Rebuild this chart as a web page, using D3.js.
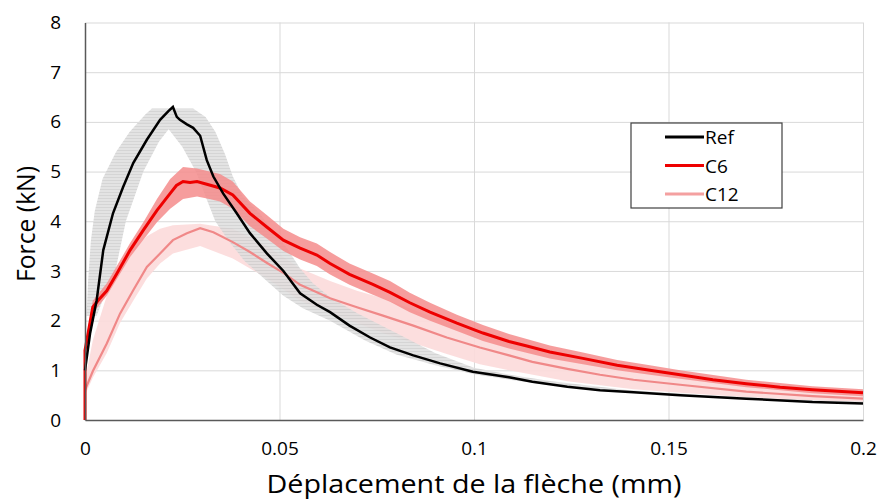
<!DOCTYPE html>
<html>
<head>
<meta charset="utf-8">
<script src="https://cdn.jsdelivr.net/npm/d3@7"></script>
<style>
  body { margin: 0; background: #fff; }
  svg { font-family: "Open Sans", "Noto Sans", sans-serif; }
</style>
</head>
<body>
<svg id="chart"></svg>
<script>
// tick values / labels
var xTicks = [0, 0.05, 0.1, 0.15, 0.2];
var xTickLabels = ["0", "0.05", "0.1", "0.15", "0.2"];
var yTicks = [0, 1, 2, 3, 4, 5, 6, 7, 8];

// Ref (mean curve)
var refX = [0, 0.0013, 0.003, 0.0047, 0.0072, 0.0098, 0.0124, 0.0159, 0.0193, 0.0215, 0.0226, 0.0236, 0.0244, 0.0262, 0.0278, 0.0296, 0.0313, 0.033, 0.0355, 0.039, 0.0424, 0.0468, 0.051, 0.0553, 0.0596, 0.063, 0.068, 0.0733, 0.0784, 0.0844, 0.0913, 0.0997, 0.109, 0.115, 0.124, 0.1324, 0.141, 0.153, 0.17, 0.187, 0.2];
var refF = [1.0, 1.74, 2.41, 3.42, 4.16, 4.69, 5.17, 5.64, 6.04, 6.22, 6.3, 6.1, 6.04, 5.95, 5.88, 5.72, 5.23, 4.9, 4.56, 4.16, 3.76, 3.35, 3.0, 2.55, 2.32, 2.17, 1.9, 1.66, 1.46, 1.3, 1.14, 0.97, 0.86, 0.77, 0.67, 0.6, 0.56, 0.5, 0.43, 0.36, 0.33];
// Ref scatter band: outer edge (left/upper) and inner edge (right/lower), as [x, F]
var refBandOuter = [[0.0004, 2.1], [0.0008, 2.8], [0.0015, 3.6], [0.0025, 4.2], [0.0045, 4.85], [0.008, 5.4], [0.0115, 5.8], [0.0155, 6.15], [0.0172, 6.27], [0.0278, 6.27], [0.031, 6.1], [0.0335, 5.8], [0.036, 5.35], [0.038, 4.9], [0.0406, 4.5], [0.045, 4.15], [0.0483, 3.8], [0.052, 3.45], [0.0553, 3.05], [0.0586, 2.75], [0.063, 2.47], [0.07, 2.15], [0.08, 1.75], [0.09, 1.35], [0.1, 1.05], [0.11, 0.9], [0.12, 0.78], [0.14, 0.6], [0.16, 0.5], [0.18, 0.42], [0.2, 0.37]];
var refBandInner = [[0.003, 2.1], [0.0045, 2.4], [0.0078, 3.0], [0.0105, 4.0], [0.015, 5.0], [0.019, 5.6], [0.0215, 5.85], [0.025, 5.5], [0.0285, 5.0], [0.031, 4.5], [0.0335, 4.0], [0.037, 3.6], [0.041, 3.2], [0.046, 2.85], [0.051, 2.5], [0.056, 2.25], [0.063, 2.0], [0.072, 1.6], [0.08, 1.32], [0.09, 1.1], [0.1, 0.92], [0.11, 0.8], [0.12, 0.7], [0.14, 0.57], [0.16, 0.47], [0.18, 0.39], [0.2, 0.32]];

// C6
var c6X = [0, 0, 0.002, 0.0034, 0.0056, 0.0082, 0.0116, 0.015, 0.0185, 0.0219, 0.0235, 0.0252, 0.027, 0.0288, 0.032, 0.0347, 0.038, 0.0424, 0.0468, 0.051, 0.0553, 0.0596, 0.063, 0.068, 0.074, 0.0784, 0.0835, 0.0887, 0.0956, 0.1023, 0.109, 0.1136, 0.1195, 0.128, 0.1368, 0.1452, 0.153, 0.1614, 0.17, 0.1787, 0.187, 0.2];
var c6F = [0, 1.4, 2.27, 2.41, 2.6, 2.95, 3.42, 3.82, 4.22, 4.56, 4.72, 4.8, 4.78, 4.8, 4.73, 4.67, 4.53, 4.16, 3.88, 3.62, 3.46, 3.32, 3.15, 2.93, 2.73, 2.57, 2.36, 2.17, 1.95, 1.75, 1.58, 1.49, 1.37, 1.24, 1.1, 1.0, 0.91, 0.81, 0.73, 0.66, 0.61, 0.55];
var c6BandX = [0, 0.002, 0.0056, 0.0116, 0.015, 0.0185, 0.0219, 0.0252, 0.0288, 0.032, 0.0347, 0.038, 0.0424, 0.0468, 0.051, 0.0553, 0.0596, 0.063, 0.068, 0.074, 0.0784, 0.0835, 0.0887, 0.0956, 0.1023, 0.109, 0.1195, 0.128, 0.1368, 0.1452, 0.153, 0.17, 0.187, 0.2];
var c6Lo = [1.3, 2.15, 2.5, 3.28, 3.63, 3.98, 4.25, 4.45, 4.5, 4.45, 4.4, 4.25, 3.9, 3.65, 3.4, 3.23, 3.1, 2.93, 2.72, 2.52, 2.38, 2.17, 2.0, 1.79, 1.59, 1.44, 1.24, 1.12, 1.0, 0.91, 0.83, 0.66, 0.54, 0.48];
var c6Hi = [1.5, 2.4, 2.75, 3.56, 3.98, 4.45, 4.85, 5.09, 5.06, 5.0, 4.95, 4.8, 4.4, 4.12, 3.85, 3.68, 3.55, 3.38, 3.15, 2.95, 2.8, 2.56, 2.36, 2.12, 1.91, 1.73, 1.5, 1.36, 1.21, 1.1, 1.0, 0.81, 0.68, 0.62];

// C12
var c12X = [0, 0.002, 0.0056, 0.009, 0.0124, 0.0159, 0.0193, 0.0226, 0.0262, 0.0296, 0.033, 0.038, 0.0424, 0.0468, 0.051, 0.0553, 0.0596, 0.063, 0.0699, 0.0766, 0.0844, 0.093, 0.1015, 0.109, 0.115, 0.124, 0.1324, 0.141, 0.153, 0.17, 0.187, 0.2];
var c12F = [0.6, 0.98, 1.54, 2.14, 2.61, 3.08, 3.35, 3.62, 3.76, 3.86, 3.78, 3.58, 3.38, 3.16, 2.96, 2.72, 2.57, 2.45, 2.27, 2.1, 1.9, 1.66, 1.46, 1.3, 1.17, 1.03, 0.91, 0.81, 0.71, 0.57, 0.48, 0.43];
var c12BandX = [0, 0.002, 0.0056, 0.009, 0.0124, 0.0159, 0.0193, 0.0226, 0.0296, 0.038, 0.0468, 0.0553, 0.063, 0.0699, 0.0766, 0.0844, 0.093, 0.1015, 0.109, 0.124, 0.141, 0.153, 0.17, 0.187, 0.2];
var c12Lo = [0.5, 0.85, 1.35, 1.95, 2.4, 2.85, 3.15, 3.35, 3.5, 3.25, 2.85, 2.4, 2.15, 1.95, 1.75, 1.55, 1.33, 1.12, 1.0, 0.78, 0.62, 0.55, 0.46, 0.39, 0.36];
var c12Hi = [0.8, 1.6, 2.5, 3.05, 3.45, 3.7, 3.85, 3.92, 3.95, 3.85, 3.5, 3.05, 2.8, 2.6, 2.45, 2.22, 1.97, 1.72, 1.55, 1.25, 1.0, 0.88, 0.7, 0.58, 0.52];

var legendNames = ["Ref", "C6", "C12"];

var dimensions = {
    width: 880,
    height: 499,
    margin: { top: 22.5, bottom: 79, right: 17, left: 85 }
};

var svg = d3.select("#chart")
    .attr("width", dimensions.width)
    .attr("height", dimensions.height);

var xScale = d3.scaleLinear()
    .domain([0, 0.2])
    .range([dimensions.margin.left, dimensions.width - dimensions.margin.right]);

var yScale = d3.scaleLinear()
    .domain([0, 8])
    .range([dimensions.height - dimensions.margin.bottom, dimensions.margin.top]);

// stripe pattern for the gray scatter band (looks like stacked error bars)
var defs = svg.append("defs");
var pat = defs.append("pattern")
    .attr("id", "grayStripes")
    .attr("patternUnits", "userSpaceOnUse")
    .attr("width", 8).attr("height", 3);
pat.append("rect").attr("width", 8).attr("height", 3).attr("fill", "#dedede");
pat.append("rect").attr("width", 8).attr("height", 1).attr("fill", "#cdcdcd");

// gridlines
svg.append("g")
    .attr("transform", `translate(0, ${yScale(0)})`)
    .call(d3.axisBottom(xScale).tickValues(xTicks.slice(1)).tickSize(-(yScale(0) - yScale(8))).tickFormat(""))
    .call(g => g.select(".domain").remove())
    .call(g => g.selectAll("line").attr("stroke", "#d9d9d9"));

svg.append("g")
    .attr("transform", `translate(${xScale(0)}, 0)`)
    .call(d3.axisLeft(yScale).tickValues(yTicks.slice(1)).tickSize(-(xScale(0.2) - xScale(0))).tickFormat(""))
    .call(g => g.select(".domain").remove())
    .call(g => g.selectAll("line").attr("stroke", "#d9d9d9"));

// bands
var bandArea = (xs, lo, hi) => d3.area()
    .x((d, i) => xScale(xs[i]))
    .y0((d, i) => yScale(lo[i]))
    .y1((d, i) => yScale(hi[i]))(xs);

svg.append("path")
    .attr("d", bandArea(c12BandX, c12Lo, c12Hi))
    .attr("fill", "#fcdada")
    .attr("opacity", 0.9);

var ring = refBandOuter.concat(refBandInner.slice().reverse());
svg.append("path")
    .attr("d", d3.line().x(d => xScale(d[0])).y(d => yScale(d[1]))(ring) + "Z")
    .attr("fill", "url(#grayStripes)")
    .attr("opacity", 0.85);

svg.append("path")
    .attr("d", bandArea(c6BandX, c6Lo, c6Hi))
    .attr("fill", "#f48c8c")
    .attr("opacity", 0.85);

// curves
var curve = (xs, ys) => d3.line()
    .x((d, i) => xScale(xs[i]))
    .y((d, i) => yScale(ys[i]))(xs);

svg.append("path").attr("d", curve(c12X, c12F))
    .attr("fill", "none").attr("stroke", "#f08888").attr("stroke-width", 2.2);
svg.append("path").attr("d", curve(c6X, c6F))
    .attr("fill", "none").attr("stroke", "#ee0000").attr("stroke-width", 3);
svg.append("path").attr("d", curve(refX, refF))
    .attr("fill", "none").attr("stroke", "#000").attr("stroke-width", 2.5);

// axes
var xAxis = d3.axisBottom(xScale)
    .tickValues(xTicks)
    .tickSize(0)
    .tickPadding(22)
    .tickFormat((d, i) => xTickLabels[i]);
svg.append("g")
    .attr("transform", `translate(0, ${yScale(0)})`)
    .call(xAxis)
    .call(g => g.select(".domain").attr("stroke", "#595959").attr("stroke-width", 1.5))
    .call(g => g.selectAll("text").attr("font-size", 19).attr("fill", "#000").attr("font-family", "Open Sans"));

var yAxis = d3.axisLeft(yScale)
    .tickValues(yTicks)
    .tickSize(0)
    .tickPadding(24)
    .tickFormat(d3.format("d"));
svg.append("g")
    .attr("transform", `translate(${xScale(0)}, 0)`)
    .call(yAxis)
    .call(g => g.select(".domain").attr("stroke", "#595959").attr("stroke-width", 1.5))
    .call(g => g.selectAll("text").attr("font-size", 19).attr("fill", "#000").attr("font-family", "Open Sans"));

// axis titles
svg.append("text")
    .attr("x", 474)
    .attr("y", 493)
    .attr("text-anchor", "middle")
    .attr("font-size", 25)
    .attr("textLength", 415)
    .attr("lengthAdjust", "spacingAndGlyphs")
    .attr("fill", "#000")
    .text("Déplacement de la flèche (mm)");

svg.append("text")
    .attr("transform", "translate(35, 224) rotate(-90)")
    .attr("text-anchor", "middle")
    .attr("font-size", 25)
    .attr("textLength", 116)
    .attr("lengthAdjust", "spacingAndGlyphs")
    .attr("fill", "#000")
    .text("Force (kN)");

// legend
var legendColors = ["#000", "#ee0000", "#f4a0a0"];
var legend = svg.append("g");
legend.append("rect")
    .attr("x", 631).attr("y", 123)
    .attr("width", 151).attr("height", 85)
    .attr("fill", "#fff")
    .attr("stroke", "#404040")
    .attr("stroke-width", 1.2);
legendNames.forEach((name, i) => {
    var ly = 137 + i * 28.5;
    legend.append("line")
        .attr("x1", 665).attr("x2", 704)
        .attr("y1", ly).attr("y2", ly)
        .attr("stroke", legendColors[i])
        .attr("stroke-width", 3);
    legend.append("text")
        .attr("x", 705).attr("y", ly + 7)
        .attr("font-size", 19)
        .attr("fill", "#000")
        .text(name);
});
</script>
</body>
</html>
